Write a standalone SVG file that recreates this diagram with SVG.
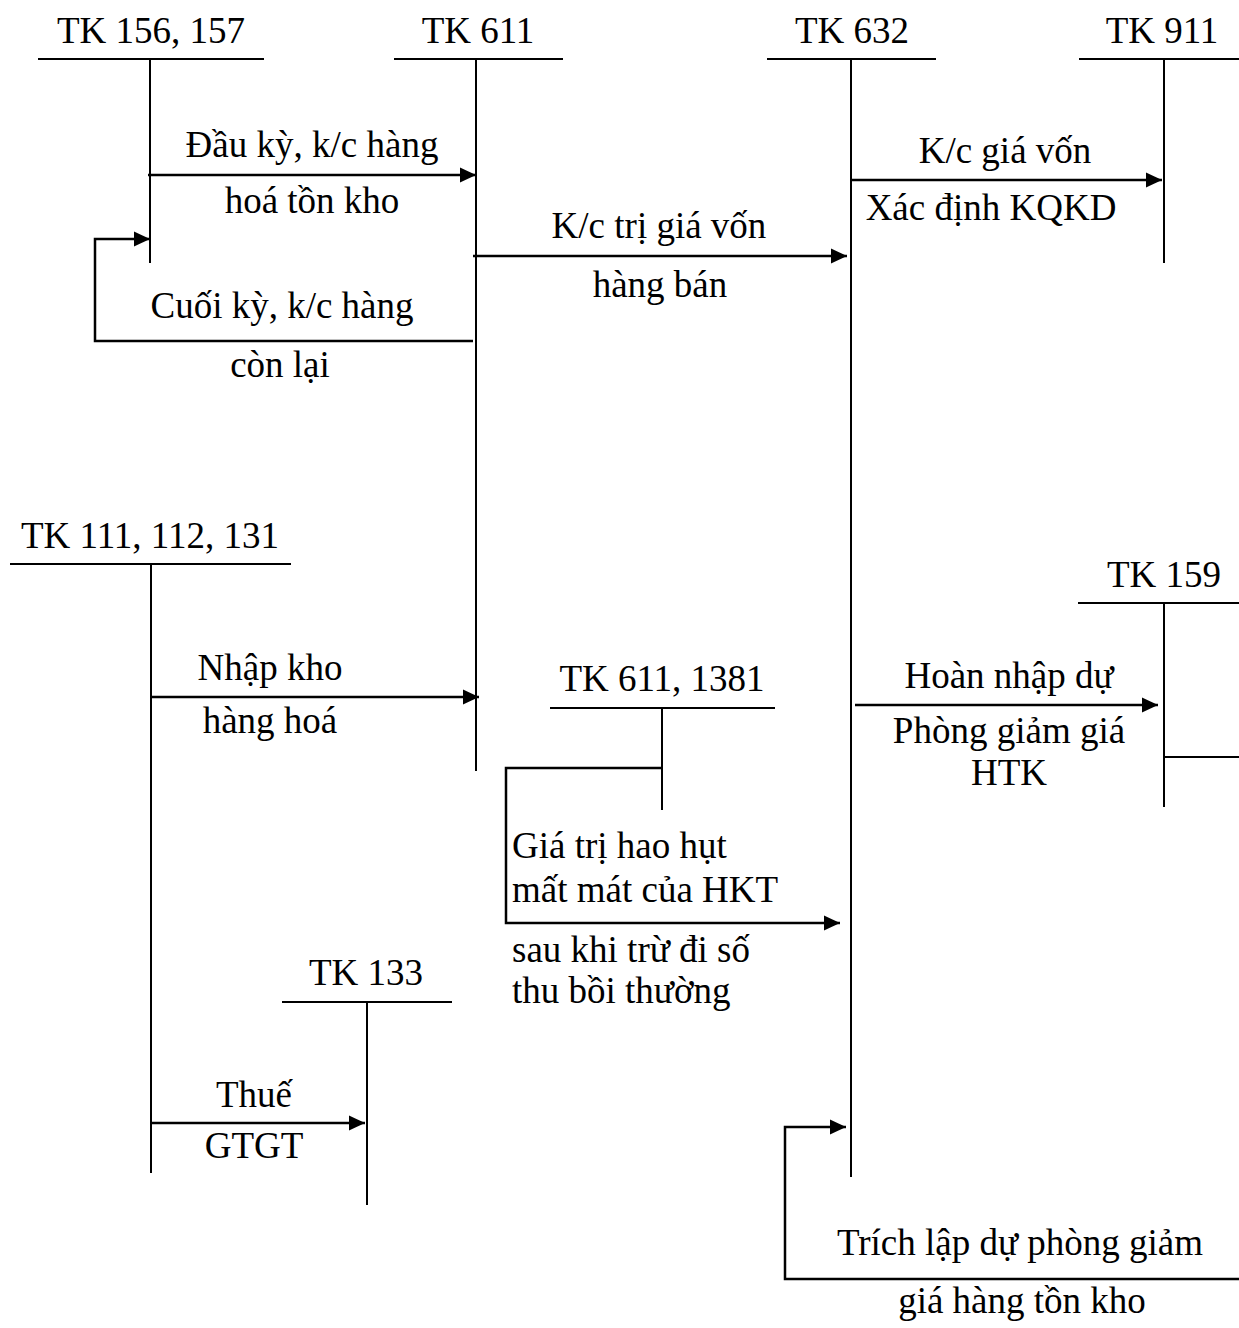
<svg xmlns="http://www.w3.org/2000/svg" width="1239" height="1328" viewBox="0 0 1239 1328">
<style>
  .ln { stroke: #000; stroke-width: 2; fill: none; }
  .ar { stroke: #000; stroke-width: 2.5; fill: none; }
  text { font-family: "Liberation Serif", "Times New Roman", serif; font-size: 37px; fill: #000; }
  .c { text-anchor: middle; }
</style>
<defs>
  <marker id="ah" markerUnits="userSpaceOnUse" markerWidth="18" markerHeight="18" viewBox="0 0 18 18" refX="16" refY="9" orient="auto">
    <path d="M0,1.5 L16,9 L0,16.5 z" fill="#000"/>
  </marker>
</defs>
<rect width="1239" height="1328" fill="#fff"/>

<g id="tk156">
  <text class="c" x="151" y="43">TK 156, 157</text>
  <line class="ln" x1="38" y1="59" x2="264" y2="59"/>
  <line class="ln" x1="150" y1="59" x2="150" y2="263"/>
</g>
<g id="tk611">
  <text class="c" x="478" y="43">TK 611</text>
  <line class="ln" x1="394" y1="59" x2="563" y2="59"/>
  <line class="ln" x1="476" y1="59" x2="476" y2="771"/>
</g>
<g id="tk632">
  <text class="c" x="852" y="43">TK 632</text>
  <line class="ln" x1="767" y1="59" x2="936" y2="59"/>
  <line class="ln" x1="851" y1="59" x2="851" y2="1177"/>
</g>
<g id="tk911">
  <text class="c" x="1162" y="43">TK 911</text>
  <line class="ln" x1="1079" y1="59" x2="1239" y2="59"/>
  <line class="ln" x1="1164" y1="59" x2="1164" y2="263"/>
</g>
<g id="tk111">
  <text class="c" x="150" y="548">TK 111, 112, 131</text>
  <line class="ln" x1="10" y1="564" x2="291" y2="564"/>
  <line class="ln" x1="151" y1="564" x2="151" y2="1173"/>
</g>
<g id="tk159">
  <text class="c" x="1164" y="587">TK 159</text>
  <line class="ln" x1="1078" y1="603" x2="1239" y2="603"/>
  <line class="ln" x1="1164" y1="603" x2="1164" y2="807"/>
  <line class="ln" x1="1164" y1="757" x2="1239" y2="757"/>
</g>
<g id="tk6111381">
  <text class="c" x="662" y="691">TK 611, 1381</text>
  <line class="ln" x1="550" y1="708" x2="775" y2="708"/>
  <line class="ln" x1="662" y1="708" x2="662" y2="810"/>
</g>
<g id="tk133">
  <text class="c" x="366" y="985">TK 133</text>
  <line class="ln" x1="282" y1="1002" x2="452" y2="1002"/>
  <line class="ln" x1="367" y1="1002" x2="367" y2="1205"/>
</g>

<g id="connectors">
  <line class="ar" x1="148" y1="175" x2="476" y2="175" marker-end="url(#ah)"/>
  <polyline class="ar" points="473,341 95,341 95,239 150,239" marker-end="url(#ah)"/>
  <line class="ar" x1="473" y1="256" x2="847" y2="256" marker-end="url(#ah)"/>
  <line class="ar" x1="851" y1="180" x2="1162" y2="180" marker-end="url(#ah)"/>
  <line class="ar" x1="151" y1="697" x2="479" y2="697" marker-end="url(#ah)"/>
  <line class="ar" x1="855" y1="705" x2="1158" y2="705" marker-end="url(#ah)"/>
  <polyline class="ar" points="662,768 506,768 506,923 840,923" marker-end="url(#ah)"/>
  <line class="ar" x1="151" y1="1123" x2="365" y2="1123" marker-end="url(#ah)"/>
  <polyline class="ar" points="1239,1279 785,1279 785,1127 846,1127" marker-end="url(#ah)"/>
</g>

<g id="labels">
  <text class="c" x="312" y="157">Đầu kỳ, k/c hàng</text>
  <text class="c" x="312" y="213">hoá tồn kho</text>
  <text class="c" x="282" y="318">Cuối kỳ, k/c hàng</text>
  <text class="c" x="280" y="377">còn lại</text>
  <text class="c" x="659" y="238">K/c trị giá vốn</text>
  <text class="c" x="660" y="297">hàng bán</text>
  <text class="c" x="1005" y="163">K/c giá vốn</text>
  <text class="c" x="991" y="220">Xác định KQKD</text>
  <text class="c" x="270" y="680">Nhập kho</text>
  <text class="c" x="270" y="733">hàng hoá</text>
  <text class="c" x="1009" y="688">Hoàn nhập dự</text>
  <text class="c" x="1009" y="743">Phòng giảm giá</text>
  <text class="c" x="1009" y="785">HTK</text>
  <text x="512" y="858">Giá trị hao hụt</text>
  <text x="512" y="902">mất mát của HKT</text>
  <text x="512" y="962">sau khi trừ đi số</text>
  <text x="512" y="1003">thu bồi thường</text>
  <text class="c" x="254" y="1107">Thuế</text>
  <text class="c" x="254" y="1158">GTGT</text>
  <text class="c" x="1020" y="1255">Trích lập dự phòng giảm</text>
  <text class="c" x="1022" y="1313">giá hàng tồn kho</text>
</g>
</svg>
